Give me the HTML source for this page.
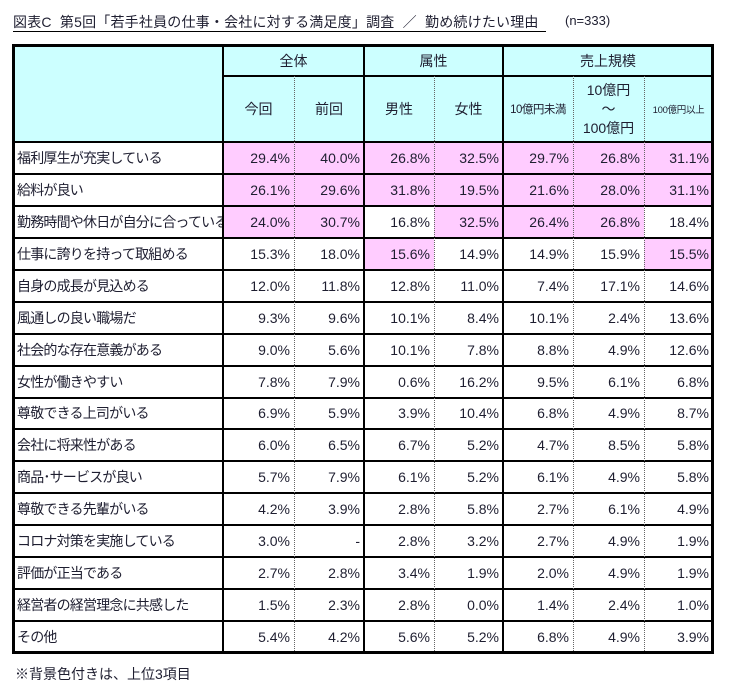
<!DOCTYPE html>
<html><head><meta charset="utf-8">
<style>
body{margin:0;width:734px;height:695px;background:#fff;position:relative;overflow:hidden;font-family:"Liberation Sans","Noto Sans CJK JP",sans-serif;color:#1e1e30}
.a{position:absolute;box-sizing:border-box}
.t{display:flex;align-items:center;white-space:nowrap;font-size:14px}
.lb{letter-spacing:-0.8px}
</style></head><body>
<div class="a" style="left:13px;top:12px;font-size:14px;white-space:nowrap;letter-spacing:0.2px">図表C&nbsp; 第5回「若手社員の仕事・会社に対する満足度」調査 &nbsp;／&nbsp; 勤め続けたい理由</div>
<div class="a" style="left:13px;top:31px;width:533px;height:1px;background:#000"></div>
<div class="a" style="left:565px;top:13px;font-size:13px">(n=333)</div>
<div id="tbl"></div>
<div class="a" style="left:15px;top:664px;font-size:14px">※背景色付きは、上位3項目</div>
<script>
const labels=["福利厚生が充実している","給料が良い","勤務時間や休日が自分に合っている","仕事に誇りを持って取組める","自身の成長が見込める","風通しの良い職場だ","社会的な存在意義がある","女性が働きやすい","尊敬できる上司がいる","会社に将来性がある","商品･サービスが良い","尊敬できる先輩がいる","コロナ対策を実施している","評価が正当である","経営者の経営理念に共感した","その他"];
const colNow=["29.4%","26.1%","24.0%","15.3%","12.0%","9.3%","9.0%","7.8%","6.9%","6.0%","5.7%","4.2%","3.0%","2.7%","1.5%","5.4%"];
const colPrev=["40.0%","29.6%","30.7%","18.0%","11.8%","9.6%","5.6%","7.9%","5.9%","6.5%","7.9%","3.9%","-","2.8%","2.3%","4.2%"];
const colMale=["26.8%","31.8%","16.8%","15.6%","12.8%","10.1%","10.1%","0.6%","3.9%","6.7%","6.1%","2.8%","2.8%","3.4%","2.8%","5.6%"];
const colFemale=["32.5%","19.5%","32.5%","14.9%","11.0%","8.4%","7.8%","16.2%","10.4%","5.2%","5.2%","5.8%","3.2%","1.9%","0.0%","5.2%"];
const colSmall=["29.7%","21.6%","26.4%","14.9%","7.4%","10.1%","8.8%","9.5%","6.8%","4.7%","6.1%","2.7%","2.7%","2.0%","1.4%","6.8%"];
const colMid=["26.8%","28.0%","26.8%","15.9%","17.1%","2.4%","4.9%","6.1%","4.9%","8.5%","4.9%","6.1%","4.9%","4.9%","2.4%","4.9%"];
const colLarge=["31.1%","31.1%","18.4%","15.5%","14.6%","13.6%","12.6%","6.8%","8.7%","5.8%","5.8%","4.9%","1.9%","1.9%","1.0%","3.9%"];
const highlight=[[1,1,1,1,1,1,1],[1,1,1,1,1,1,1],[1,1,0,1,1,1,0],[0,0,1,0,0,0,1]];
const cols=[colNow,colPrev,colMale,colFemale,colSmall,colMid,colLarge];
const colKeys=["now","prev","male","female","under-10b","10b-100b","over-100b"];
const X=[13,223,294,364,434,503,573,644,713];
const T=45,H1=76,H2=142,RH=(653-142)/16,B=653;
const tbl=document.getElementById('tbl');
function box(css,html){const d=document.createElement('div');d.className='a';d.style.cssText=css;if(html!==undefined)d.innerHTML=html;tbl.appendChild(d);return d;}
let e=box(`left:${X[0]}px;top:${T}px;width:${X[8]-X[0]}px;height:${H2-T}px;background:#ccffff`);


const groups=[["全体",1,3],["属性",3,5],["売上規模",5,8]];
groups.forEach(g=>{const d=box(`left:${X[g[1]]}px;top:${T}px;width:${X[g[2]]-X[g[1]]}px;height:${H1-T}px;justify-content:center`,g[0]);d.classList.add('t');

});
const subs=["今回","前回","男性","女性","<span style='font-size:11.5px;letter-spacing:-0.5px'>10億円未満</span>","<div style='text-align:center;line-height:19px'>10億円<br>～<br>100億円</div>","<span style='font-size:9.5px;letter-spacing:-0.3px'>100億円以上</span>"];
subs.forEach((s,i)=>{const d=box(`left:${X[i+1]}px;top:${H1}px;width:${X[i+2]-X[i+1]}px;height:${H2-H1}px;justify-content:center`,s);d.classList.add('t');

});
labels.forEach((l,r)=>{const y=H2+r*RH;
const d=box(`left:${X[0]}px;top:${y}px;width:${X[1]-X[0]}px;height:${RH}px;padding-left:4px`,l);d.classList.add('t');d.classList.add('lb');


cols.forEach((c,i)=>{const hl=highlight[r]&&highlight[r][i];
const v=box(`left:${X[i+1]}px;top:${y}px;width:${X[i+2]-X[i+1]}px;height:${RH}px;justify-content:flex-end;padding-right:4px;background:${hl?'#ffccff':'#fff'}`,c[r]);v.classList.add('t');

});});
function line(css,name){const d=box(css);

}
line(`left:${X[1]}px;top:${H1-1}px;width:${X[8]-X[1]}px;height:2px;background:#000`,'header-divider');
for(let r=0;r<16;r++){line(`left:${X[0]}px;top:${H2+r*RH-1}px;width:${X[8]-X[0]}px;height:2px;background:#000`,'row-divider');}
[294,434,573,644].forEach(x=>line(`left:${x}px;top:${H1}px;width:0;height:${B-H1}px;border-left:1px dotted #666`,'column-divider'));
[223,364,503].forEach(x=>line(`left:${x-1}px;top:${T}px;width:2px;height:${B-T}px;background:#000`,'group-divider'));
line(`left:${X[0]-1}px;top:${T-1}px;width:${X[8]-X[0]+2}px;height:${B-T+2}px;border:3px solid #000`,'table-border');
</script>
</body></html>
